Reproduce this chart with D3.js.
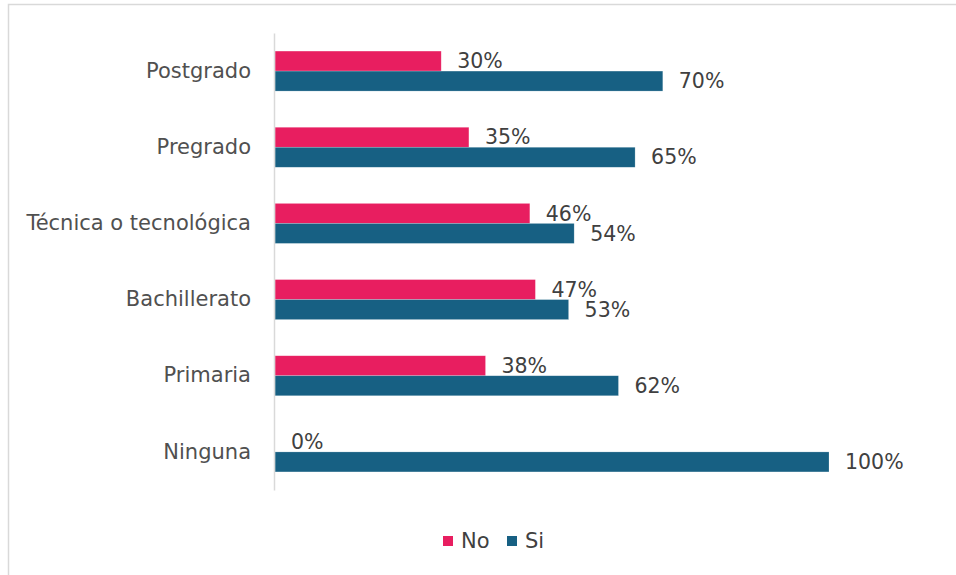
<!DOCTYPE html>
<html>
<head>
<meta charset="utf-8">
<script src="https://cdn.jsdelivr.net/npm/d3@7"></script>
<style>
  body { margin: 0; background: #fff; }
  text { font-family: "DejaVu Sans", "Noto Sans", sans-serif; fill: #404040; }
</style>
</head>
<body>
<div id="chart"></div>
<script>
// datos
const categorias = ["Postgrado", "Pregrado", "Técnica o tecnológica", "Bachillerato", "Primaria", "Ninguna"]
const series = ["No", "Si"]
const valoresNo = [30, 35, 46, 47, 38, 0]
const valoresSi = [70, 65, 54, 53, 62, 100]
const colores = {No: "#e81e60", Si: "#176083"}

const width = 956
const height = 575
const margin = {top: 33, bottom: 85, left: 275, right: 127}

const data = categorias.map((c, i) => ({cat: c, No: valoresNo[i], Si: valoresSi[i]}))

const svg = d3.select("#chart").append("svg").attr("width", width).attr("height", height)

// marco
svg.append("rect")
    .attr("x", 8.5).attr("y", 4.5)
    .attr("width", width + 10).attr("height", height + 10)
    .attr("fill", "none").attr("stroke", "#d9d9d9").attr("stroke-width", 1.5)

// escalas
const x = d3.scaleLinear().domain([0, 100]).range([margin.left, width - margin.right])
const y = d3.scaleBand().domain(categorias).range([margin.top, height - margin.bottom])
const y1 = d3.scaleBand().domain(series).range([y.bandwidth() / 2 - 20, y.bandwidth() / 2 + 20])

// barras
const grupos = svg.append("g").selectAll("g").data(data)
    .join("g")
        .attr("transform", d => `translate(0,${y(d.cat)})`)

grupos.selectAll("rect").data(d => series.map(s => ({s: s, v: d[s]})))
    .join("rect")
        .attr("x", x(0))
        .attr("y", d => y1(d.s))
        .attr("width", d => x(d.v) - x(0))
        .attr("height", y1.bandwidth())
        .attr("fill", d => colores[d.s])
        .attr("stroke", "#fff")
        .attr("stroke-opacity", 0.35)
        .attr("stroke-width", 0.6)

grupos.selectAll("text").data(d => series.map(s => ({s: s, v: d[s]})))
    .join("text")
        .attr("x", d => x(d.v) + 16)
        .attr("y", d => y1(d.s) + y1.bandwidth() / 2)
        .attr("dy", "0.35em")
        .style("font-size", "20.5px")
        .text(d => d.v + "%")

// eje y
const yAxis = d3.axisLeft(y).tickSize(0).tickPadding(23)
const yAxisGroup = svg.append("g").attr("transform", `translate(${x(0) - 1},0)`).call(yAxis)
yAxisGroup.select(".domain").attr("stroke", "#d9d9d9").attr("stroke-width", 1.5)
yAxisGroup.selectAll("text").style("font-size", "21px").style("fill", "#505050")
    .attr("font-family", null)

// leyenda
const leyenda = svg.append("g").attr("transform", "translate(443,541)")
const itemX = {No: 0, Si: 64}
series.forEach(s => {
    const g = leyenda.append("g").attr("transform", `translate(${itemX[s]},0)`)
    g.append("rect").attr("x", 0).attr("y", -5).attr("width", 10).attr("height", 10).attr("fill", colores[s])
    g.append("text").attr("x", 18).attr("y", 0).attr("dy", "0.35em").style("font-size", "21px").text(s)
})
</script>
</body>
</html>
